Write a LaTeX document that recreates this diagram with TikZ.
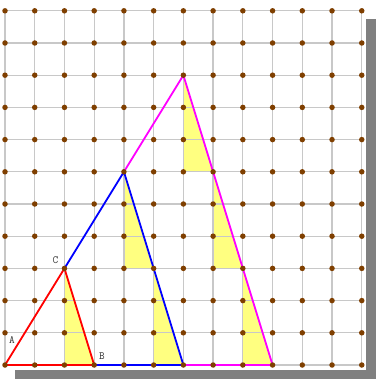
\documentclass[tikz,border=0pt]{standalone}
\definecolor{gridgray}{HTML}{C8C8C8}
\definecolor{dotbrown}{HTML}{7F3F00}
\definecolor{shadowgray}{HTML}{808080}
\definecolor{fillyellow}{HTML}{FFFF80}
\definecolor{magentaline}{HTML}{FF00FF}
\tikzset{
  gridline/.style={draw=gridgray, line width=1.3pt},
  gdot/.style={circle, fill=dotbrown, inner sep=0pt, minimum size=5.5pt},
  tri/.style={line width=1.8pt, line join=round, line cap=round},
  yel/.style={fill=fillyellow},
  lab/.style={font=\ttfamily\fontsize{11pt}{12pt}\selectfont, text=black!80, inner sep=0pt}
}
\begin{document}
\begin{tikzpicture}
\useasboundingbox (0pt,0pt) rectangle (376pt,-379pt);
\fill[shadowgray] (15pt,-19pt) rectangle (376pt,-379pt);
\fill[white] (0pt,0pt) rectangle (366pt,-370pt);
\begin{scope}[shift={(5pt,-365pt)}, x=29.73pt, y=32.2pt]
  % yellow triangles
  \fill[yel] (2,0) -- (2,3) -- (3,0) -- cycle;
  \fill[yel] (4,3) -- (4,6) -- (5,3) -- cycle;
  \fill[yel] (5,0) -- (5,3) -- (6,0) -- cycle;
  \fill[yel] (6,6) -- (6,9) -- (7,6) -- cycle;
  \fill[yel] (7,3) -- (7,6) -- (8,3) -- cycle;
  \fill[yel] (8,0) -- (8,3) -- (9,0) -- cycle;
  % grid
  \foreach \i in {0,...,12} \draw[gridline] (\i,0) -- (\i,11);
  \foreach \j in {0,...,11} \draw[gridline] (0,\j) -- (12,\j);
  % named points
  \coordinate (A) at (0,0);
  \coordinate (B) at (3,0);
  \coordinate (C) at (2,3);
  \coordinate (D) at (6,0);
  \coordinate (E) at (4,6);
  \coordinate (F) at (9,0);
  \coordinate (G) at (6,9);
  % triangles
  \draw[tri, magentaline] (E) -- (G) -- (F) -- (D);
  \draw[tri, blue] (C) -- (E) -- (D) -- (B);
  \draw[tri, red] (B) -- (A) -- (C) -- cycle;
  % dots
  \foreach \i in {0,...,12} \foreach \j in {0,...,11} \node[gdot] (d-\i-\j) at (\i,\j) {};
\end{scope}
\node[lab] (la) at (12pt,-340.5pt) {A};
\node[lab] (lb) at (102pt,-356pt) {B};
\node[lab] (lc) at (55.5pt,-260pt) {C};
\end{tikzpicture}
\end{document}
